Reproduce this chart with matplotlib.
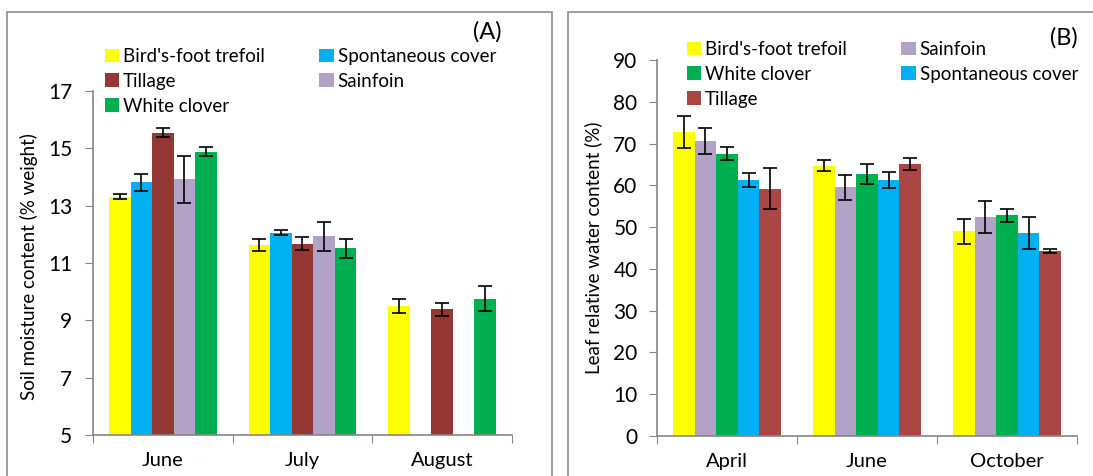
import numpy as np
import matplotlib
matplotlib.use("Agg")
import matplotlib.pyplot as plt
from matplotlib.patches import Rectangle

plt.rcParams['font.family'] = ['Lato', 'DejaVu Sans']

# (A) soil moisture
months_a = ['June', 'July', 'August']
series_a = ["Bird's-foot trefoil", 'Spontaneous cover', 'Tillage', 'Sainfoin', 'White clover']
colors_a = ['#FFFF00', '#00B0F0', '#953735', '#B3A2C7', '#00B050']
vals_a = [
    [13.31, 11.62, 9.51],
    [13.81, 12.06, np.nan],
    [15.55, 11.68, 9.38],
    [13.92, 11.93, np.nan],
    [14.88, 11.51, 9.76],
]
err_a = [
    [0.08, 0.21, 0.25],
    [0.29, 0.10, np.nan],
    [0.16, 0.22, 0.22],
    [0.81, 0.50, np.nan],
    [0.16, 0.32, 0.44],
]
legend_order_a = [0, 2, 4, 1, 3]

# (B) leaf relative water content
months_b = ['April', 'June', 'October']
series_b = ["Bird's-foot trefoil", 'Sainfoin', 'White clover', 'Spontaneous cover', 'Tillage']
colors_b = ['#FFFF00', '#B3A2C7', '#00B050', '#00B0F0', '#AA4644']
vals_b = [
    [72.7, 64.7, 49.0],
    [70.6, 59.5, 52.4],
    [67.6, 62.6, 52.8],
    [61.3, 61.3, 48.6],
    [59.2, 65.1, 44.3],
]
err_b = [
    [3.8, 1.3, 3.0],
    [3.2, 3.0, 3.8],
    [1.5, 2.4, 1.5],
    [1.7, 1.9, 3.8],
    [4.9, 1.5, 0.5],
]
legend_order_b = [0, 2, 4, 1, 3]

W, H = 1093, 476
fig = plt.figure(figsize=(W / 100, H / 100), dpi=100)
gray = '#868686'
tick_fs = 15
month_fs = 14.5
leg_fs = 13.5
lab_fs = 13.5

# panel frames
for x0, x1 in [(7, 552), (568, 1110)]:
    fig.patches.append(Rectangle((x0 / W, -0.1), (x1 - x0) / W, 1.1 - 12 / H,
                                 transform=fig.transFigure, fill=False,
                                 edgecolor='#8c8c8c', lw=1.2))


def panel(rect, months, series, colors, vals, errs, ylim, yticks, ylabel, order, leg_xy, ypad):
    ax = fig.add_axes(rect)
    x = np.arange(len(months))
    bw = 0.154
    n = len(series)
    handles = []
    for i in range(n):
        pos = x + (i - (n - 1) / 2) * bw
        b = ax.bar(pos, vals[i], bw, color=colors[i], label=series[i], zorder=2)
        ax.errorbar(pos, vals[i], yerr=errs[i], fmt='none', ecolor='black',
                    elinewidth=1.2, capsize=5, capthick=1.2, zorder=3)
        handles.append(b)
    ax.set_xlim(-0.5, len(months) - 0.5)
    ax.set_ylim(*ylim)
    ax.set_yticks(yticks)
    ax.set_xticks(np.arange(len(months) + 1) - 0.5)
    ax.set_xticklabels([])
    ax.set_xticks(x, minor=True)
    ax.set_xticklabels(months, minor=True)
    ax.tick_params(axis='x', which='major', length=6, color=gray, direction='out')
    ax.tick_params(axis='x', which='minor', length=0, pad=12, labelsize=month_fs)
    ax.tick_params(axis='y', length=6, color=gray, labelsize=tick_fs, pad=ypad)
    for s in ['top', 'right']:
        ax.spines[s].set_visible(False)
    for s in ['left', 'bottom']:
        ax.spines[s].set_color(gray)
        ax.spines[s].set_linewidth(1.2)
    ax.set_ylabel(ylabel, fontsize=lab_fs)
    ax.legend([handles[k] for k in order], [series[k] for k in order], ncol=2,
              loc='upper left', bbox_to_anchor=(leg_xy[0] / W, 1 - leg_xy[1] / H),
              bbox_transform=fig.transFigure, frameon=False, fontsize=leg_fs,
              borderpad=0, borderaxespad=0, handlelength=0.75, handleheight=0.75,
              handletextpad=0.22, labelspacing=0.42, columnspacing=2.9)
    return ax


ax_a = panel([93 / W, 1 - 435 / H, 419 / W, 344 / H], months_a, series_a, colors_a,
             vals_a, err_a, (5, 17), [5, 7, 9, 11, 13, 15, 17],
             'Soil moisture content (% weight)', legend_order_a, (105, 48), 9)
ax_a.yaxis.set_label_coords(38 / W, 1 - 267 / H, transform=fig.transFigure)

ax_b = panel([657 / W, 1 - 436 / H, 420 / W, 376 / H], months_b, series_b, colors_b,
             vals_b, err_b, (0, 90), np.arange(0, 91, 10),
             'Leaf relative water content (%)', legend_order_b, (687, 41), 8)
ax_b.yaxis.set_label_coords(602 / W, 1 - 248 / H, transform=fig.transFigure)

fig.text(502 / W, 1 - 32 / H, '(A)', ha='right', va='center', fontsize=17)
fig.text(1078 / W, 1 - 38 / H, '(B)', ha='right', va='center', fontsize=17)

fig.savefig('out.png', dpi=100)
